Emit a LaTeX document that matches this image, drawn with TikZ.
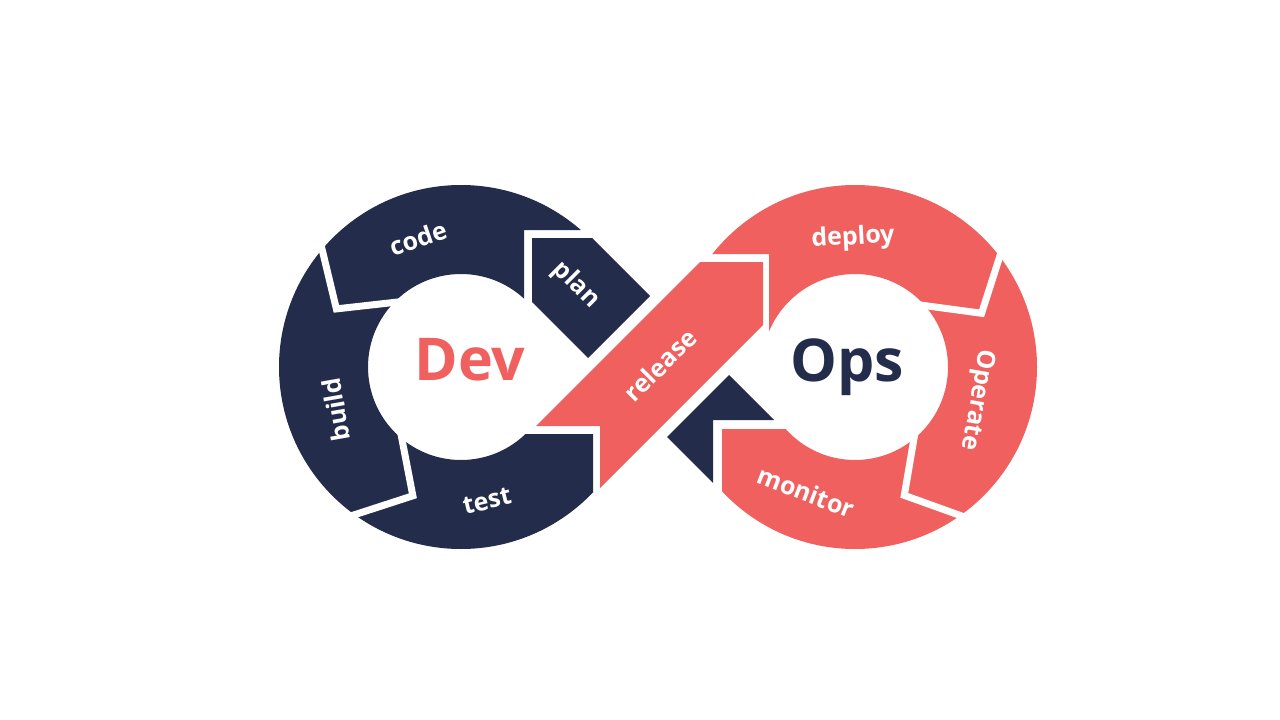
\documentclass[tikz,border=0pt]{standalone}
\usepackage{fontspec}
\setmainfont{Open Sans}
\usetikzlibrary{calc}
\definecolor{navy}{RGB}{35,44,74}
\definecolor{coral}{RGB}{239,96,94}

\begin{document}
\begin{tikzpicture}[
  x=1pt, y=-1pt,
  gap/.style={draw=white, line width=7pt, line join=miter},
  lbl/.style={text=white, inner sep=0pt, font=\fontsize{25}{30}\selectfont\bfseries},
  big/.style={inner sep=0pt, anchor=base, font=\fontsize{59}{70}\selectfont\bfseries}
]
\fill[white] (0,0) rectangle (1280,720);
\useasboundingbox (0,0) rectangle (1280,720);

\coordinate (L) at (461,367);
\coordinate (R) at (855,367);

% Dev ring
\begin{scope}
  \clip (250,100) -- (700,100) -- (700,230) -- (524,230) -- (524,434) -- (593,434) -- (593,650) -- (250,650) -- cycle;
  \fill[navy, even odd rule] (L) circle (182) (L) circle (93);
\end{scope}
\foreach \t in {205,110.5}
  \draw[gap] ($(L)+({\t+17}:190)$) -- ($(L)+(\t:137.5)$) -- ($(L)+({\t+25}:86)$);

% Ops ring
\begin{scope}
  \clip (620,100) -- (1100,100) -- (1100,650) -- (722,650) -- (722,429) -- (810,429) -- (810,367) -- (769,367) -- (769,254) -- (620,254) -- cycle;
  \fill[coral, even odd rule] (R) circle (182) (R) circle (93);
\end{scope}
\foreach \t in {337,69}
  \draw[gap] ($(R)+({\t-16}:190)$) -- ($(R)+(\t:137.5)$) -- ($(R)+({\t-24}:86)$);

% Crossing bands
\fill[navy] (532,238) -- (592,238) -- (650,296) -- (588,358) -- (532,302) -- cycle;
\fill[navy] (729,375) -- (774,420) -- (713,420) -- (713,483) -- (667,437) -- cycle;
\fill[coral] (536,426) -- (600,426) -- (600,488) -- (763,325) -- (763,262) -- (700,262) -- cycle;

% Labels
\node[big, text=coral] (dev) at (470,380) {Dev};
\node[big, text=navy] (ops) at (847,381) {Ops};
\node[lbl, rotate=19] (code) at (418,238) {code};
\node[lbl, rotate=100] (build) at (336,410) {build};
\node[lbl, rotate=13] (test) at (487,501) {test};
\node[lbl, rotate=-45] (plan) at (576,285) {plan};
\node[lbl, rotate=45] (release) at (660,365) {release};
\node[lbl, rotate=3] (deploy) at (853,238) {deploy};
\node[lbl, rotate=-100] (operate) at (977,400) {Operate};
\node[lbl, rotate=-21] (monitor) at (806,492) {monitor};
\end{tikzpicture}
\end{document}
